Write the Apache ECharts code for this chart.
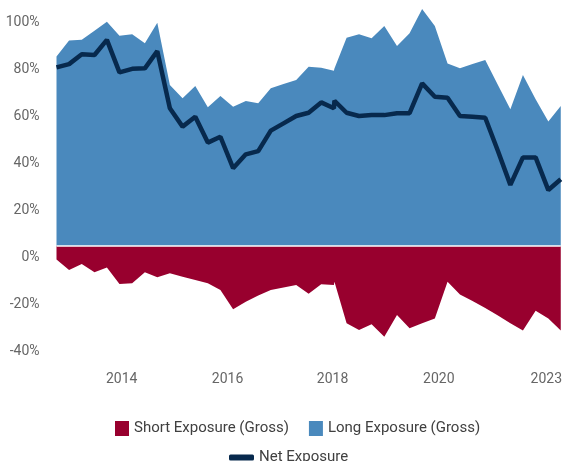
<!DOCTYPE html>
<html><head><meta charset="utf-8">
<script src="https://cdn.jsdelivr.net/npm/echarts@6/dist/echarts.min.js"></script>
<style>html,body{margin:0;padding:0;background:#fff}#c{width:565px;height:461px}</style>
</head><body><div id="c"></div>
<script>
const dates = ['2013-03-31','2013-06-30','2013-09-30','2013-12-31','2014-03-31','2014-06-30','2014-09-30','2014-12-31',
'2015-03-31','2015-06-30','2015-09-30','2015-12-31','2016-03-31','2016-06-30','2016-09-30','2016-12-31',
'2017-03-31','2017-06-30','2017-09-30','2017-12-31','2018-03-31','2018-06-30','2018-09-30','2018-10-04','2018-12-31',
'2019-03-31','2019-06-30','2019-09-30','2019-12-31','2020-03-31','2020-06-30','2020-09-30','2020-12-31',
'2021-03-31','2021-06-30','2021-09-30','2021-12-31','2022-03-31','2022-06-30','2022-09-30','2022-12-31','2023-03-31'];
const longExposure = [80.6,87.4,87.8,91.6,95.4,89.5,90.1,86.3,95.0,68.5,62.9,68.1,59.0,63.8,59.3,61.7,60.7,67.1,68.9,70.6,76.3,75.9,74.6,75.5,88.6,90.1,88.4,93.6,85.1,90.5,100.9,93.6,77.7,75.6,77.4,79.1,68.5,58.2,72.8,62.4,53.0,59.6];
const shortExposure = [-5.7,-10.2,-7.7,-11.2,-9.1,-16.2,-15.9,-11.2,-13.3,-11.6,-13.1,-14.5,-15.9,-18.7,-26.9,-23.7,-21.1,-18.7,-17.7,-16.6,-20.3,-16.3,-16.6,-15.2,-32.9,-35.7,-33.3,-38.6,-29.4,-35.0,-32.9,-30.8,-15.2,-20.6,-23.4,-26.4,-29.6,-32.9,-36.0,-27.5,-30.8,-36.0];
const netExposure = [76.0,77.4,81.6,81.3,87.7,73.9,75.4,75.6,82.9,58.6,50.8,55.0,44.0,46.5,33.1,39.0,40.4,49.1,52.2,55.3,56.7,61.1,58.6,61.8,56.7,55.3,55.7,55.7,56.5,56.5,69.2,63.5,63.1,55.3,55.0,54.6,40.4,26.0,37.7,37.7,23.8,28.4];
const xTickDates = ['2014-07-16','2016-08-21','2018-09-20','2020-10-29','2022-12-16'];
const xTickLabels = ['2014','2016','2018','2020','2023'];
const yMin = -40, yMax = 100, yStep = 20;

const names = {short:'Short Exposure (Gross)', long:'Long Exposure (Gross)', net:'Net Exposure'};
const colors = {short:'#98002E', long:'#4A89BD', net:'#07294D'};
const t = d => Date.parse(d);
const pair = arr => dates.map((d,i)=>[t(d), arr[i]]);
const tickNums = xTickDates.map(t);
const font = 'Roboto';

const chart = echarts.init(document.getElementById('c'), null, {renderer:'canvas'});
chart.setOption({
  animation:false,
  grid:{left:56.5, right:1.5, top:11, bottom:121, containLabel:false},
  xAxis:{type:'value', min:t(dates[0]), max:t(dates[dates.length-1]),
    axisLine:{show:false}, axisTick:{show:false}, splitLine:{show:false},
    axisLabel:{customValues:tickNums, margin:32, color:'#666666', fontSize:14, fontFamily:font,
      formatter:(v)=>{let bi=0,bd=Infinity;tickNums.forEach((n,i)=>{const dd=Math.abs(n-v);if(dd<bd){bd=dd;bi=i;}});return xTickLabels[bi];}}},
  yAxis:{type:'value', min:yMin, max:yMax, interval:yStep,
    axisLine:{show:false}, axisTick:{show:false}, splitLine:{show:false},
    axisLabel:{formatter:'{value}%', margin:17, color:'#666666', fontSize:14, fontFamily:font, verticalAlign:'top', padding:[4,0,0,0]}},
  legend:[
    {data:[names.short,names.long], left:110, top:416, icon:'rect', itemWidth:14, itemHeight:15, itemGap:20,
      textStyle:{fontSize:15, color:'#404040', fontFamily:font}, selectedMode:false},
    {data:[names.net], left:224, top:445, icon:'roundRect', itemWidth:25, itemHeight:6,
      textStyle:{fontSize:15, color:'#404040', fontFamily:font}, selectedMode:false}
  ],
  series:[
    {name:names.long, type:'line', data:pair(longExposure), symbol:'none', clip:false,
      itemStyle:{color:colors.long}, lineStyle:{width:0, color:colors.long}, areaStyle:{color:colors.long, opacity:1}},
    {name:names.short, type:'line', data:pair(shortExposure), symbol:'none', clip:false,
      itemStyle:{color:colors.short}, lineStyle:{width:0, color:colors.short}, areaStyle:{color:colors.short, opacity:1},
      markLine:{silent:true, symbol:'none', label:{show:false}, lineStyle:{color:'#ffffff', width:1.5, type:'solid'}, data:[{yAxis:0}]}},
    {name:names.net, type:'line', data:pair(netExposure), symbol:'none', clip:false, z:5,
      itemStyle:{color:colors.net}, lineStyle:{width:4.5, color:colors.net}}
  ]
});
</script></body></html>
